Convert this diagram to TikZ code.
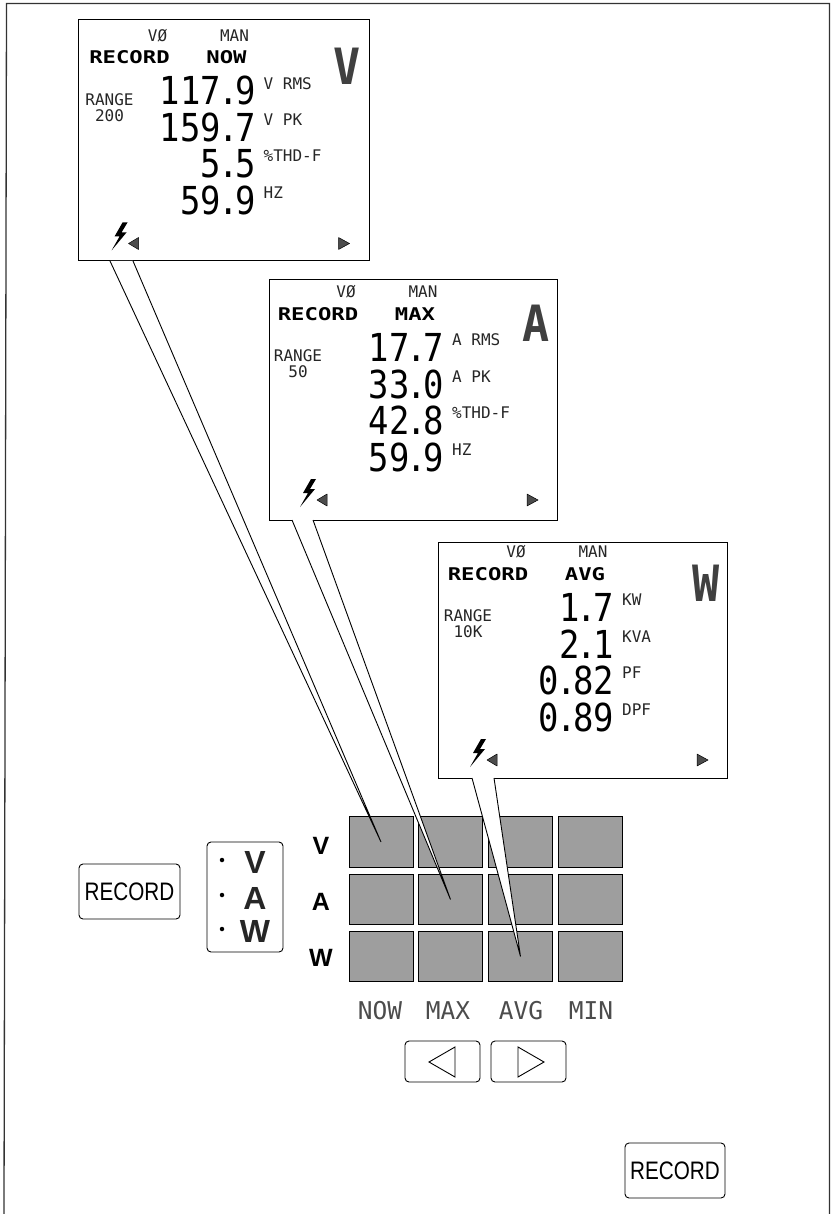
\documentclass[tikz,border=0pt]{standalone}
\usepackage{fontspec}
\setmainfont{Liberation Sans}
\newfontfamily\lcd{DejaVu Sans Mono}
\newcommand\sm{\fontsize{16}{16}\selectfont\lcd}
\newcommand\digs{\fontsize{38.5}{38.5}\selectfont\lcd}
\newcommand\dotc{\kern-3.5pt.\kern-3.5pt}
\newcommand\numtext[1]{\scalebox{.88}[1]{\digs #1}}
\newcommand\recordtext{\scalebox{1.27}[1]{\fontsize{17.5}{17.5}\selectfont\lcd\bfseries RECORD}}
\newcommand\bolttext[1]{\scalebox{1.27}[1]{\fontsize{17.5}{17.5}\selectfont\lcd\bfseries #1}}
\newcommand\btntext{\scalebox{.94}[1.15]{\fontsize{22}{22}\selectfont RECORD}}
\tikzset{
  x=1pt,y=-1pt,
  panelbox/.style={draw=black,line width=1pt,fill=white,rectangle,inner sep=0pt},
  smalltext/.style={inner sep=0pt,font=\sm,text=black!85},
  numnode/.style={inner sep=0pt,anchor=east},
  unitnode/.style={inner sep=0pt,anchor=west,font=\sm,text=black!85},
  boldnode/.style={inner sep=0pt},
  bigletter/.style={inner sep=0pt,text=black!75},
  leader/.style={draw=black,line width=.9pt,fill=white,line join=miter},
  cell/.style={draw=black,line width=1pt,fill=black!38,rectangle,minimum width=64pt,minimum height=50.5pt,inner sep=0pt},
  btn/.style={draw=black,line width=.9pt,rounded corners=4pt,rectangle,inner sep=0pt,fill=white},
  keylabel/.style={inner sep=0pt,font=\fontsize{32}{32}\selectfont\bfseries,text=black!85},
  rowlabel/.style={inner sep=0pt,font=\fontsize{25}{25}\selectfont\bfseries},
  collabel/.style={inner sep=0pt,font=\fontsize{24.5}{24.5}\selectfont\lcd,text=black!70},
  ledot/.style={circle,fill=black,inner sep=0pt,minimum size=4.5pt},
  recbtn/.style={btn},
  tri/.style={fill=black!70,draw=black,line width=.5pt,line join=round},
  arrowtri/.style={draw=black,line width=.9pt,fill=white,line join=miter}
}
% #1 prefix, #2,#3 text origin, #4 mode, #5 big letter, #6 range
\newcommand\panelface[6]{%
  \node[smalltext] (#1vo) at (#2+77,#3+12) {VØ};
  \node[smalltext] (#1man) at (#2+154,#3+12) {MAN};
  \node[boldnode] (#1rec) at (#2+49,#3+34) {\recordtext};
  \node[boldnode] (#1mode) at (#2+146,#3+34) {\bolttext{#4}};
  \node[bigletter] (#1big) at (#2+267,#3+43) {\scalebox{.9}[1]{\fontsize{50}{50}\selectfont\lcd\bfseries #5}};
  \node[smalltext] (#1rng) at (#2+29,#3+76) {RANGE};
  \node[smalltext] (#1rv) at (#2+29,#3+92) {#6};
  \fill[black] (#2+42,#3+199) -- (#2+34,#3+213) -- (#2+39,#3+213) -- (#2+31,#3+227) -- (#2+46,#3+209) -- (#2+41,#3+209) -- (#2+47,#3+199) -- cycle;
  \fill[tri] (#2+48,#3+220) -- (#2+58,#3+214) -- (#2+58,#3+226) -- cycle;
  \fill[tri] (#2+258,#3+214) -- (#2+269,#3+220) -- (#2+258,#3+226) -- cycle;
}
% #1 name, #2 origin x, #3 origin y, #4 row y, #5 number, #6 unit y, #7 unit
\newcommand\valrow[7]{%
  \node[numnode] (#1n) at (#2+175.5,#3+#4) {\numtext{#5}};
  \node[unitnode] (#1u) at (#2+183,#3+#6) {#7};
}
\begin{document}
\begin{tikzpicture}
\useasboundingbox (0,0) rectangle (831,1214);
\draw[line width=1.3pt,black!80] (4,1214) -- (6.5,3.5) -- (829.5,3.5) -- (829.5,1214);

% grid
\foreach \c/\cx in {1/381,2/450.5,3/520.5,4/590}{
  \foreach \r/\ry in {1/842,2/899.5,3/956.5}{
    \node[cell] (c\r\c) at (\cx,\ry) {};
  }
}

% panels
\node[panelbox,minimum width=291pt,minimum height=241pt] (p1) at (223.5,140.5) {};
\node[panelbox,minimum width=288pt,minimum height=240pt] (p2) at (413,400) {};
\node[panelbox,minimum width=289pt,minimum height=236pt] (p3) at (582.5,660) {};

% leaders
\coordinate (l1a) at (110,261);\coordinate (l1b) at (133,261);
\coordinate (l2a) at (292,520);\coordinate (l2b) at (313,520);
\coordinate (l3a) at (472,778);\coordinate (l3b) at (494,778);
\draw[leader] (l1a) -- (c11.center) -- (l1b);
\draw[leader] (l2a) -- (c22.center) -- (l2b);
\draw[leader] (l3a) -- (c33.center) -- (l3b);

% panel 1
\panelface{a}{80.5}{23.5}{NOW}{V}{200}
\valrow{a1}{80.5}{23.5}{67}{117\dotc 9}{60}{V RMS}
\valrow{a2}{80.5}{23.5}{104}{159\dotc 7}{96}{V PK}
\valrow{a3}{80.5}{23.5}{140}{5\dotc 5}{132}{\%THD-F}
\valrow{a4}{80.5}{23.5}{177}{59\dotc 9}{169}{HZ}
% panel 2
\panelface{b}{269}{280}{MAX}{A}{50}
\valrow{b1}{269}{280}{67}{17\dotc 7}{60}{A RMS}
\valrow{b2}{269}{280}{104}{33\dotc 0}{97}{A PK}
\valrow{b3}{269}{280}{140}{42\dotc 8}{133}{\%THD-F}
\valrow{b4}{269}{280}{177}{59\dotc 9}{170}{HZ}
% panel 3
\panelface{d}{439}{540}{AVG}{W}{10K}
\valrow{d1}{439}{540}{67}{1\dotc 7}{60}{KW}
\valrow{d2}{439}{540}{104}{2\dotc 1}{97}{KVA}
\valrow{d3}{439}{540}{140}{0\dotc 82}{133}{PF}
\valrow{d4}{439}{540}{177}{0\dotc 89}{170}{DPF}

% left controls
\node[recbtn,minimum width=101pt,minimum height=55pt] (rec1) at (129.5,891.5) {\btntext};
\node[btn,minimum width=76pt,minimum height=110pt] (vaw) at (245,897) {};
\node[keylabel] (kv) at (255,862) {V};
\node[keylabel] (ka) at (255,898) {A};
\node[keylabel] (kw) at (255,931) {W};
\node[ledot] (dv) at (222,860) {};
\node[ledot] (da) at (222,895) {};
\node[ledot] (dw) at (222,929) {};
\node[rowlabel] (rv) at (321,846) {V};
\node[rowlabel] (ra) at (321,902) {A};
\node[rowlabel] (rw) at (321,958) {W};

% column labels
\node[collabel] (n1) at (380,1011) {NOW};
\node[collabel] (n2) at (448,1011) {MAX};
\node[collabel] (n3) at (521,1011) {AVG};
\node[collabel] (n4) at (591,1011) {MIN};

% arrow buttons
\node[btn,minimum width=75pt,minimum height=41pt] (bl) at (442.5,1061.5) {};
\node[btn,minimum width=75pt,minimum height=41pt] (br) at (528.5,1061.5) {};
\draw[arrowtri] (429,1062) -- (455,1047) -- (455,1077) -- cycle;
\draw[arrowtri] (518,1047) -- (544,1062) -- (518,1077) -- cycle;

\node[recbtn,minimum width=100pt,minimum height=55pt] (rec2) at (675,1170.5) {\btntext};
\end{tikzpicture}
\end{document}
